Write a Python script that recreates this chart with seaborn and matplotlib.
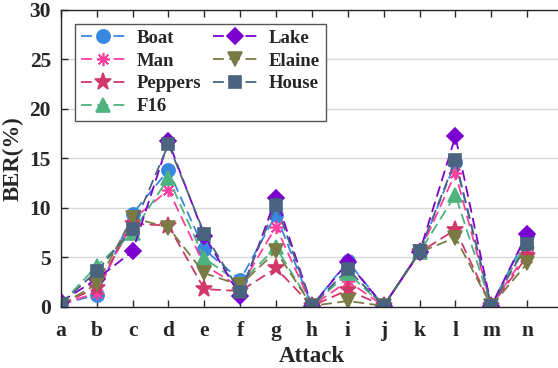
"""BER under each attack for the seven test images."""
import matplotlib
matplotlib.use("Agg")
import matplotlib.pyplot as plt
import seaborn as sns

ATTACKS = ["a", "b", "c", "d", "e", "f", "g", "h", "i", "j", "k", "l", "m", "n"]

BOAT = [0.3, 1.2, 9.4, 13.8, 5.8, 2.7, 9.3, 0.1, 4.6, 0.1, 5.5, 14.6, 0.1, 7.3]
MAN = [0.3, 1.4, 8.8, 11.8, 4.2, 2.0, 8.1, 0.1, 2.6, 0.1, 5.5, 13.5, 0.1, 5.5]
PEPPERS = [0.3, 1.9, 8.4, 8.2, 1.8, 1.6, 3.9, 0.1, 1.7, 0.1, 5.5, 7.8, 0.1, 5.1]
F16 = [0.3, 4.1, 7.5, 13.0, 4.9, 2.4, 6.0, 0.1, 3.4, 0.1, 5.5, 11.3, 0.1, 6.7]
LAKE = [0.5, 2.8, 5.6, 16.7, 7.2, 1.1, 11.0, 0.1, 4.5, 0.1, 5.5, 17.2, 0.1, 7.4]
ELAINE = [0.2, 2.3, 9.0, 8.0, 3.4, 2.2, 5.6, 0.1, 0.6, 0.1, 5.5, 7.0, 0.1, 4.4]
HOUSE = [0.3, 3.6, 7.9, 16.4, 7.4, 1.5, 10.3, 0.1, 3.8, 0.1, 5.6, 14.8, 0.1, 6.3]

SERIES = {
    "Boat": BOAT,
    "Man": MAN,
    "Peppers": PEPPERS,
    "F16": F16,
    "Lake": LAKE,
    "Elaine": ELAINE,
    "House": HOUSE,
}

# colour, marker, marker size for each image
STYLE = {
    "Boat": ("#3a87e0", "o", 9.5),
    "Man": ("#ff3f9f", (8, 2, 0), 9.5),
    "Peppers": ("#cf3868", "*", 12.5),
    "F16": ("#4db37f", "^", 10.5),
    "Lake": ("#7b00d0", "D", 8.5),
    "Elaine": ("#7a7a45", "v", 10.5),
    "House": ("#4a6480", "s", 8.5),
}

sns.set_style("ticks")
plt.rcParams["font.family"] = ["Liberation Serif", "DejaVu Serif"]
plt.rcParams["font.weight"] = "bold"

fig = plt.figure(figsize=(5.58, 3.68), dpi=100)
ax = fig.add_axes([0.109, 0.166, 0.90, 0.808])

for name, values in SERIES.items():
    color, marker, size = STYLE[name]
    sns.lineplot(
        x=ATTACKS, y=values, ax=ax, color=color, marker=marker,
        markersize=size, markeredgecolor=color, markeredgewidth=1.2,
        linewidth=1.3, dashes=False, label=name,
    )
    ax.lines[-1].set_dashes((6, 3))

ax.set_xlim(0, 14)
ax.set_ylim(0, 30)
ax.set_yticks([0, 5, 10, 15, 20, 25, 30])
ax.yaxis.grid(True, color="#d9d9d9", linewidth=1.0)
ax.set_axisbelow(True)

for side in ["left", "bottom", "top"]:
    ax.spines[side].set_color("#262626")
    ax.spines[side].set_linewidth(1.0)
ax.spines["right"].set_visible(False)
ax.tick_params(direction="in", top=True, length=5, width=1.0,
               labelsize=15.5, colors="#262626")
ax.tick_params(axis="x", pad=10)
ax.tick_params(axis="y", pad=7)
for lbl in ax.get_xticklabels() + ax.get_yticklabels():
    lbl.set_fontweight("bold")

ax.set_xlabel("Attack", fontsize=16.5, fontweight="bold", labelpad=4)
ax.set_ylabel("BER(%)", fontsize=16.5, fontweight="bold", labelpad=4)

leg = ax.legend(
    ncol=2, loc="upper left", bbox_to_anchor=(0.028, 0.951), borderaxespad=0,
    fancybox=False, framealpha=1, edgecolor="#555555", handlelength=2.4,
    columnspacing=0.6, labelspacing=0.3, handletextpad=0.6, borderpad=0.3,
    prop={"size": 13.5, "weight": "bold"},
)
leg.get_frame().set_linewidth(1.0)

fig.savefig("out.png", dpi=100)
